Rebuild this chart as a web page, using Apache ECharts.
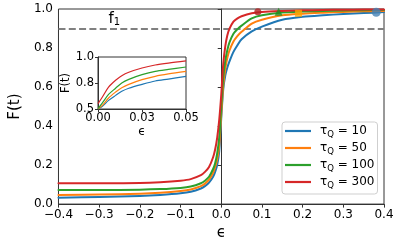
<!DOCTYPE html>
<html><head><meta charset="utf-8">
<script src="https://cdn.jsdelivr.net/npm/echarts@6/dist/echarts.min.js"></script>
<style>html,body{margin:0;padding:0;background:#fff}#c{width:399px;height:246px}</style>
</head><body><div id="c"></div>
<script>
// ---- data ----
const taus = [10, 50, 100, 300];
const eps = [-0.4, -0.3, -0.2, -0.15, -0.1, -0.075, -0.05, -0.04, -0.03, -0.02, -0.015, -0.01, -0.005, 0, 0.005, 0.01, 0.015, 0.02, 0.03, 0.04, 0.05, 0.075, 0.1, 0.15, 0.2, 0.25, 0.3, 0.35, 0.4];
const F10  = [0.033, 0.037, 0.042, 0.047, 0.055, 0.063, 0.080, 0.092, 0.110, 0.140, 0.165, 0.200, 0.270, 0.440, 0.590, 0.660, 0.700, 0.730, 0.780, 0.815, 0.845, 0.885, 0.910, 0.945, 0.960, 0.968, 0.974, 0.979, 0.984];
const F50  = [0.047, 0.049, 0.053, 0.058, 0.067, 0.075, 0.092, 0.105, 0.125, 0.160, 0.190, 0.230, 0.300, 0.460, 0.610, 0.695, 0.750, 0.786, 0.833, 0.862, 0.883, 0.925, 0.945, 0.968, 0.976, 0.981, 0.985, 0.988, 0.990];
const F100 = [0.072, 0.072, 0.074, 0.077, 0.083, 0.090, 0.107, 0.120, 0.140, 0.180, 0.210, 0.260, 0.340, 0.500, 0.650, 0.735, 0.790, 0.828, 0.873, 0.897, 0.915, 0.952, 0.968, 0.982, 0.987, 0.990, 0.992, 0.994, 0.995];
const F300 = [0.107, 0.107, 0.108, 0.112, 0.120, 0.128, 0.148, 0.165, 0.190, 0.240, 0.280, 0.340, 0.430, 0.560, 0.720, 0.810, 0.865, 0.898, 0.935, 0.952, 0.963, 0.978, 0.985, 0.990, 0.993, 0.995, 0.996, 0.997, 0.997];

const insetEps = [0, 0.0025, 0.006, 0.01, 0.0135, 0.0175, 0.025, 0.0325, 0.04, 0.05];
const in10  = [0.500, 0.526, 0.583, 0.631, 0.670, 0.700, 0.737, 0.769, 0.788, 0.814];
const in50  = [0.500, 0.535, 0.606, 0.663, 0.705, 0.737, 0.782, 0.814, 0.837, 0.862];
const in100 = [0.503, 0.558, 0.640, 0.700, 0.750, 0.785, 0.830, 0.862, 0.881, 0.904];
const in300 = [0.551, 0.615, 0.710, 0.776, 0.820, 0.853, 0.894, 0.923, 0.942, 0.962];

const markEps = [0.381, 0.190, 0.141, 0.090];
const markF   = [0.983, 0.978, 0.986, 0.986];
const f1Level = 0.9;

const xTickLabels = ['\u22120.4', '\u22120.3', '\u22120.2', '\u22120.1', '0.0', '0.1', '0.2', '0.3', '0.4'];
const yTickLabels = ['0.0', '0.2', '0.4', '0.6', '0.8', '1.0'];
const insetXLabels = ['0.00', '0.03', '0.05'];
const insetYLabels = ['0.5', '0.8', '1.0'];

// ---- styles ----
const lineColors = ['#1f77b4', '#ff7f0e', '#2ca02c', '#d62728'];
const markColors = ['#4682b4', '#ffa500', '#228b22', '#b22222'];
const markSymbols = ['circle', 'rect', 'triangle', 'circle'];
const markSizes = [9, 7, 8, 7];
const spine = '#333';
const FONT = 'DejaVu Sans';

const mainSets = [F10, F50, F100, F300];
const insetSets = [in10, in50, in100, in300];

const series = [];
mainSets.forEach((arr, k) => {
  const s = {
    name: String(taus[k]), type: 'line', xAxisIndex: 0, yAxisIndex: 0,
    data: eps.map((e, i) => [e, arr[i]]),
    showSymbol: false, smooth: 0.3,
    lineStyle: { width: 2, color: lineColors[k], join: 'round', cap: 'round' }, itemStyle: { color: lineColors[k] },
    z: 2 + k
  };
  if (k === 0) {
    s.markLine = {
      silent: true, symbol: ['none', 'none'], z: 1,
      lineStyle: { color: '#808080', width: 2, type: [7, 3.3] },
      label: {
        show: true, position: 'insideStartTop', distance: 1,
        formatter: '{f|f}{s|1}',
        padding: [0, 0, 0, 49],
        rich: {
          f: { fontSize: 15, fontFamily: FONT, color: '#000', lineHeight: 16, verticalAlign: 'middle' },
          s: { fontSize: 10, fontFamily: FONT, color: '#000', lineHeight: 10, verticalAlign: 'bottom' }
        }
      },
      data: [{ yAxis: f1Level }]
    };
  }
  series.push(s);
});
insetSets.forEach((arr, k) => {
  series.push({
    name: 'inset' + taus[k], type: 'line', xAxisIndex: 1, yAxisIndex: 1,
    data: insetEps.map((e, i) => [e, arr[i]]),
    showSymbol: false, smooth: 0.3,
    lineStyle: { width: 1.2, color: lineColors[k], join: 'round' }, z: 10
  });
});
taus.forEach((t, k) => {
  series.push({
    name: 'mark' + t, type: 'scatter', xAxisIndex: 0, yAxisIndex: 0,
    data: [[markEps[k], markF[k]]],
    symbol: markSymbols[k], symbolSize: markSizes[k],
    itemStyle: { color: markColors[k] }, z: 8
  });
});

const mainAxisCommon = {
  axisLine: { show: true, lineStyle: { color: spine, width: 1 } },
  axisTick: { show: true, length: 3.5, lineStyle: { color: spine, width: 1 } },
  splitLine: { show: false }
};

const chart = echarts.init(document.getElementById('c'), null, { renderer: 'canvas' });
chart.setOption({
  animation: false,
  backgroundColor: '#fff',
  textStyle: { fontFamily: FONT },
  grid: [
    { left: 44, right: 15, top: 9, bottom: 38, show: true, borderColor: spine, borderWidth: 1, backgroundColor: 'transparent' },
    { left: 98, top: 57, width: 88, height: 52, show: true, borderColor: spine, borderWidth: 1, backgroundColor: '#fff' }
  ],
  xAxis: [
    Object.assign({
      type: 'value', gridIndex: 0, min: -0.4, max: 0.4, interval: 0.1,
      name: '\u03f5', nameLocation: 'middle', nameGap: 21,
      nameTextStyle: { fontSize: 15, color: '#000', fontFamily: FONT },
      axisLabel: { fontSize: 12, color: '#000', margin: 5, fontFamily: FONT, formatter: (v, i) => xTickLabels[i] }
    }, mainAxisCommon),
    Object.assign({
      type: 'value', gridIndex: 1, min: 0, max: 0.05, interval: 0.025,
      name: '\u03f5', nameLocation: 'middle', nameGap: 17,
      nameTextStyle: { fontSize: 12, color: '#000', fontFamily: FONT },
      axisLabel: { fontSize: 11.5, color: '#000', margin: 3, fontFamily: FONT, formatter: (v, i) => insetXLabels[i] }
    }, mainAxisCommon, { axisTick: { show: true, length: 3, lineStyle: { color: spine } } })
  ],
  yAxis: [
    Object.assign({
      type: 'value', gridIndex: 0, min: 0, max: 1, interval: 0.2,
      name: 'F(t)', nameLocation: 'middle', nameGap: 31, nameRotate: 90,
      nameTextStyle: { fontSize: 15, color: '#000', fontFamily: FONT },
      axisLabel: { fontSize: 12, color: '#000', margin: 5.5, fontFamily: FONT, formatter: (v, i) => yTickLabels[i] }
    }, mainAxisCommon),
    Object.assign({
      type: 'value', gridIndex: 1, min: 0.5, max: 1.0, interval: 0.25,
      name: 'F(t)', nameLocation: 'middle', nameGap: 26, nameRotate: 90,
      nameTextStyle: { fontSize: 11.5, color: '#000', fontFamily: FONT },
      axisLabel: { fontSize: 11.5, color: '#000', margin: 4, fontFamily: FONT, formatter: (v, i) => insetYLabels[i] }
    }, mainAxisCommon, { axisTick: { show: true, length: 3, lineStyle: { color: spine } } })
  ],
  legend: {
    orient: 'vertical', left: 282, top: 122,
    data: taus.map(String),
    icon: 'rect', itemWidth: 26, itemHeight: 2.2, itemGap: 3,
    padding: [3, 3, 4, 3],
    backgroundColor: '#fff', borderColor: '#cfcfcf', borderWidth: 1, borderRadius: 3,
    formatter: n => '{p|\u03c4}{s|Q}{a| = ' + n + '}',
    textStyle: {
      rich: {
        p: { fontSize: 12, fontFamily: FONT, color: '#000', lineHeight: 16, padding: [0, 0, 0, 4], verticalAlign: 'middle' },
        s: { fontSize: 8.5, fontFamily: FONT, color: '#000', lineHeight: 9, verticalAlign: 'bottom' },
        a: { fontSize: 12, fontFamily: FONT, color: '#000', lineHeight: 16, verticalAlign: 'middle' }
      }
    }
  },
  series: series
});
</script>
</body></html>
